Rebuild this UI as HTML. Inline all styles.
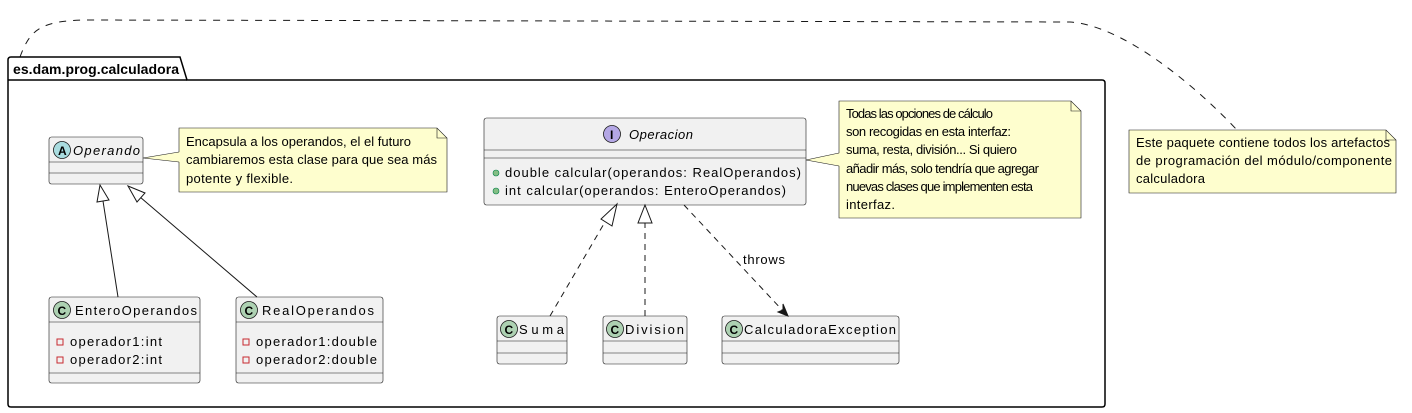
<!DOCTYPE html>
<html><head><meta charset="utf-8"><style>
html,body{margin:0;padding:0;background:#fff}
svg{display:block}
text{font-family:"Liberation Sans","DejaVu Sans",sans-serif;font-size:13px;fill:#000}
.b{fill:#f1f1f1;stroke:#181818;stroke-width:0.6}
.n{fill:#fefece;stroke:#181818;stroke-width:0.6}
.l{stroke:#181818;stroke-width:0.6;fill:none}
.d{stroke:#181818;stroke-width:1;fill:none;stroke-dasharray:6,5}
.s{stroke:#181818;stroke-width:1;fill:none}
.ic{font-weight:bold;font-size:12px}
</style></head><body>
<svg width="1412" height="413" viewBox="0 0 1412 413" xmlns="http://www.w3.org/2000/svg">
<path class="d" style="stroke-dasharray:7,7" d="M20,57 C30,30 40,20 90,20 L1070,22 C1120,25 1190,80 1237,130"/>
<path d="M8,80 L8,60 Q8,57 11,57 L180,57 L187,80 L1102,80 Q1105,80 1105,83 L1105,404 Q1105,407 1102,407 L11,407 Q8,407 8,404 Z" fill="none" stroke="#000" stroke-width="1.5"/>
<line x1="8" y1="80" x2="187" y2="80" stroke="#000" stroke-width="1.5"/>
<text x="13" y="74" style="font-weight:bold;font-size:14px" textLength="166">es.dam.prog.calculadora</text>

<rect class="b" x="49" y="137" width="94" height="47" rx="2.5"/>
<line class="l" x1="49" y1="162" x2="143" y2="162"/><line class="l" x1="49" y1="173" x2="143" y2="173"/>
<circle cx="62" cy="150" r="8.5" fill="#a9dcdf" stroke="#181818" stroke-width="0.8"/>
<text x="58" y="155" class="ic">A</text>
<text x="73" y="155" style="font-style:italic" textLength="67">Operando</text>

<path class="n" d="M179,128 L437,128 L447,138 L447,192 L179,192 Z"/>
<path class="l" d="M437,128 L437,138 L447,138"/>
<path d="M143,158 L180,152 L180,162 Z" fill="#fefece"/>
<path class="l" d="M143,158 L179,152 M143,158 L179,162"/>
<text x="186" y="146" textLength="225">Encapsula a los operandos, el el futuro</text>
<text x="186" y="164" textLength="251">cambiaremos esta clase para que sea más</text>
<text x="186" y="183" textLength="107">potente y flexible.</text>

<rect class="b" x="49" y="297" width="151" height="86" rx="2.5"/>
<line class="l" x1="49" y1="322" x2="200" y2="322"/><line class="l" x1="49" y1="373" x2="200" y2="373"/>
<circle cx="62" cy="310" r="8.5" fill="#add1b2" stroke="#181818" stroke-width="0.8"/>
<text x="57.5" y="315" class="ic">C</text>
<text x="75" y="315" textLength="122">EnteroOperandos</text>
<rect x="57" y="339" width="6" height="6" fill="none" stroke="#c82930" stroke-width="1"/>
<text x="70" y="346" textLength="92">operador1:int</text>
<rect x="57" y="357" width="6" height="6" fill="none" stroke="#c82930" stroke-width="1"/>
<text x="70" y="364" textLength="92">operador2:int</text>

<rect class="b" x="236" y="297" width="147" height="86" rx="2.5"/>
<line class="l" x1="236" y1="322" x2="383" y2="322"/><line class="l" x1="236" y1="373" x2="383" y2="373"/>
<circle cx="249" cy="310" r="8.5" fill="#add1b2" stroke="#181818" stroke-width="0.8"/>
<text x="244.5" y="315" class="ic">C</text>
<text x="262" y="315" textLength="112">RealOperandos</text>
<rect x="243" y="339" width="6" height="6" fill="none" stroke="#c82930" stroke-width="1"/>
<text x="256" y="346" textLength="121">operador1:double</text>
<rect x="243" y="357" width="6" height="6" fill="none" stroke="#c82930" stroke-width="1"/>
<text x="256" y="364" textLength="121">operador2:double</text>

<line class="s" x1="118" y1="297" x2="103" y2="201"/>
<path d="M100,185 L109,200 L97,202 Z" fill="#fff" stroke="#181818" stroke-width="1"/>
<line class="s" x1="257" y1="297" x2="140" y2="197"/>
<path d="M128,186 L145,193 L137,202 Z" fill="#fff" stroke="#181818" stroke-width="1"/>

<rect class="b" x="484" y="118" width="322" height="87" rx="2.5"/>
<line class="l" x1="484" y1="150" x2="806" y2="150"/><line class="l" x1="484" y1="158" x2="806" y2="158"/>
<circle cx="612" cy="134" r="8.5" fill="#b4a7e5" stroke="#181818" stroke-width="0.8"/>
<text x="610" y="139" class="ic">I</text>
<text x="629" y="139" style="font-style:italic" textLength="64">Operacion</text>
<circle cx="496" cy="173" r="3" fill="#84be84" stroke="#038048" stroke-width="0.6"/>
<text x="505" y="177" textLength="296">double calcular(operandos: RealOperandos)</text>
<circle cx="496" cy="191" r="3" fill="#84be84" stroke="#038048" stroke-width="0.6"/>
<text x="505" y="195" textLength="281">int calcular(operandos: EnteroOperandos)</text>

<path class="n" d="M839,101 L1071,101 L1081,111 L1081,218 L839,218 Z"/>
<path class="l" d="M1071,101 L1071,111 L1081,111"/>
<path d="M806,160 L840,153 L840,166 Z" fill="#fefece"/>
<path class="l" d="M806,160 L839,153 M806,160 L839,166"/>
<text x="846" y="118" textLength="147">Todas las opciones de cálculo</text>
<text x="846" y="136" textLength="165">son recogidas en esta interfaz:</text>
<text x="846" y="154" textLength="171">suma, resta, división... Si quiero</text>
<text x="846" y="173" textLength="193">añadir más, solo tendría que agregar</text>
<text x="846" y="191" textLength="187">nuevas clases que implementen esta</text>
<text x="846" y="209" textLength="49">interfaz.</text>

<rect class="b" x="497" y="316" width="70" height="48" rx="2.5"/>
<line class="l" x1="497" y1="341" x2="567" y2="341"/><line class="l" x1="497" y1="353" x2="567" y2="353"/>
<circle cx="509" cy="329" r="8.5" fill="#add1b2" stroke="#181818" stroke-width="0.8"/>
<text x="504.5" y="334" class="ic">C</text>
<text x="519" y="334" textLength="45">Suma</text>

<rect class="b" x="603" y="316" width="84" height="48" rx="2.5"/>
<line class="l" x1="603" y1="341" x2="687" y2="341"/><line class="l" x1="603" y1="353" x2="687" y2="353"/>
<circle cx="615" cy="329" r="8.5" fill="#add1b2" stroke="#181818" stroke-width="0.8"/>
<text x="610.5" y="334" class="ic">C</text>
<text x="625" y="334" textLength="59">Division</text>

<rect class="b" x="722" y="316" width="177" height="48" rx="2.5"/>
<line class="l" x1="722" y1="341" x2="899" y2="341"/><line class="l" x1="722" y1="353" x2="899" y2="353"/>
<circle cx="734" cy="329" r="8.5" fill="#add1b2" stroke="#181818" stroke-width="0.8"/>
<text x="729.5" y="334" class="ic">C</text>
<text x="744" y="334" textLength="152">CalculadoraException</text>

<line class="d" x1="550" y1="316" x2="605" y2="222"/>
<path d="M617,204 L612,226 L601,219 Z" fill="#fff" stroke="#181818" stroke-width="1"/>
<line class="d" x1="645" y1="316" x2="645" y2="223"/>
<path d="M645,205 L652,223 L638,223 Z" fill="#fff" stroke="#181818" stroke-width="1"/>
<line class="d" x1="684" y1="205" x2="784" y2="312"/>
<path d="M788,316 L778,312 L783,310 L783,304 Z" fill="#181818" stroke="#181818" stroke-width="1"/>
<text x="743" y="264" textLength="42">throws</text>

<path class="n" d="M1129,130 L1386,130 L1396,140 L1396,193 L1129,193 Z"/>
<path class="l" d="M1386,130 L1386,140 L1396,140"/>
<text x="1136" y="147" textLength="254">Este paquete contiene todos los artefactos</text>
<text x="1136" y="165" textLength="256">de programación del módulo/componente</text>
<text x="1136" y="183" textLength="69">calculadora</text>
</svg>
</body></html>
